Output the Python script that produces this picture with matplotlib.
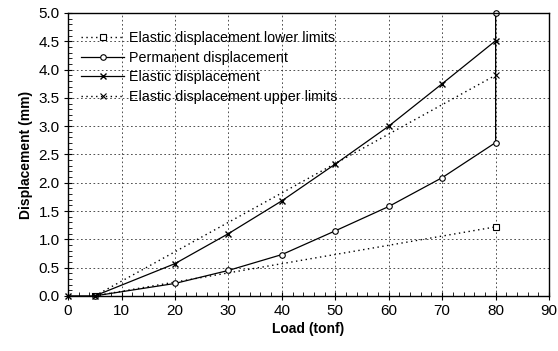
import matplotlib
matplotlib.use("Agg")
import matplotlib.pyplot as plt
from matplotlib.ticker import MultipleLocator, FormatStrFormatter

plt.rcParams['font.family'] = ['Liberation Sans', 'DejaVu Sans']

# Load (tonf) and displacement (mm) series
lower_x = [5, 80]
lower_y = [0.0, 1.22]

perm_x = [5, 20, 30, 40, 50, 60, 70, 80, 80]
perm_y = [0.0, 0.22, 0.45, 0.73, 1.15, 1.58, 2.09, 2.71, 5.0]

elastic_x = [0, 5, 20, 30, 40, 50, 60, 70, 80]
elastic_y = [0.0, 0.0, 0.57, 1.10, 1.68, 2.33, 3.00, 3.75, 4.51]

upper_x = [5, 80]
upper_y = [0.0, 3.90]

labels = ["Elastic displacement lower limits",
          "Permanent displacement",
          "Elastic displacement",
          "Elastic displacement upper limits"]

fig = plt.figure(figsize=(5.58, 3.51), dpi=100)
ax = fig.add_axes([0.122, 0.157, 0.862, 0.806])

ax.plot(lower_x, lower_y, color='black', lw=1.0, ls=(0, (1, 2.5)),
        marker='s', ms=4, mfc='white', mec='black', mew=0.8, label=labels[0])
ax.plot(perm_x, perm_y, color='black', lw=0.9, ls='-', clip_on=False,
        marker='o', ms=4, mfc='white', mec='black', mew=0.8, label=labels[1])
ax.plot(elastic_x, elastic_y, color='black', lw=0.9, ls='-', clip_on=False,
        marker='x', ms=4, mew=1.0, label=labels[2])
ax.plot(upper_x, upper_y, color='black', lw=1.0, ls=(0, (1, 2.5)),
        marker='x', ms=4, mew=0.8, label=labels[3])

ax.set_xlim(0, 90)
ax.set_ylim(0, 5.0)
ax.xaxis.set_major_locator(MultipleLocator(10))
ax.xaxis.set_minor_locator(MultipleLocator(2))
ax.yaxis.set_major_locator(MultipleLocator(0.5))
ax.yaxis.set_minor_locator(MultipleLocator(0.1))
ax.yaxis.set_major_formatter(FormatStrFormatter('%.1f'))

ax.grid(True, which='major', color='#333333', lw=0.6, ls=(0, (2, 3)))
ax.tick_params(which='major', direction='inout', length=6, width=0.8,
               labelsize=11, pad=3)
ax.tick_params(which='minor', direction='in', length=3, width=0.6)
ax.tick_params(top=False, right=False)
for s in ax.spines.values():
    s.set_linewidth(1.0)

ax.set_xlabel("Load (tonf)", fontsize=10, fontweight='bold', labelpad=3)
ax.set_ylabel("Displacement (mm)", fontsize=10, fontweight='bold', labelpad=4)

ax.legend(loc='upper left', frameon=False, fontsize=10.3, handlelength=3.0,
          handletextpad=0.3, labelspacing=0.38, borderaxespad=0.2,
          bbox_to_anchor=(0.01, 0.965))

fig.savefig("out.png", dpi=100)
